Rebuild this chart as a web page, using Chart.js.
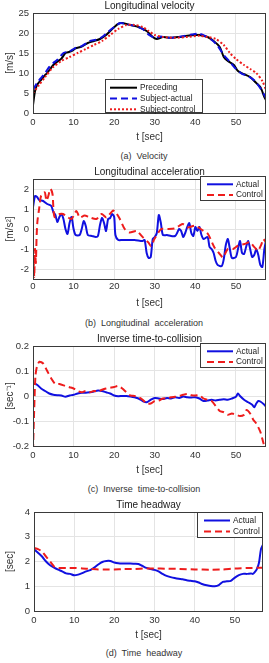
<!DOCTYPE html>
<html>
<head>
<meta charset="utf-8">
<script src="https://cdn.jsdelivr.net/npm/chart.js@4.4.1/dist/chart.umd.min.js"></script>
<style>
  body { margin: 0; width: 269px; height: 663px; overflow: hidden; background: #fff; position: relative; }
  .box { position: absolute; left: 0; width: 269px; }
  .cap { position: absolute; left: 19px; width: 250px; text-align: center; font-size: 9px; line-height: 12px;
         color: #333; white-space: pre; font-family: 'Liberation Sans', Arial, sans-serif; }
</style>
</head>
<body>
<div class="box" style="top:0px;height:143px"><canvas id="vel"></canvas></div>
<div class="cap" style="top:150px">(a)  Velocity</div>
<div class="box" style="top:166px;height:143px"><canvas id="acc"></canvas></div>
<div class="cap" style="top:317px">(b)  Longitudinal  acceleration</div>
<div class="box" style="top:333px;height:143px"><canvas id="ittc"></canvas></div>
<div class="cap" style="top:483px">(c)  Inverse  time-to-collision</div>
<div class="box" style="top:499px;height:142px"><canvas id="thw"></canvas></div>
<div class="cap" style="top:647px">(d)  Time  headway</div>

<script>
// tick labels
var xTicks = [0, 10, 20, 30, 40, 50];
var velTicks = [0, 5, 10, 15, 20, 25];
var accTicks = [-2, -1, 0, 1, 2];
var ittcTicks = [-0.2, -0.1, 0, 0.1, 0.2];
var thwTicks = [0, 1, 2, 3, 4];

// (a) velocity [m/s]
var tPre = [0, 0.5, 1, 2, 3, 3.5, 5, 6, 7, 8, 9, 10, 10.5, 12, 13.5, 15, 16.5, 18, 19.5, 21, 22, 24, 26, 28, 29.5, 30.5, 32, 34, 36, 38, 40, 41, 43, 44.5, 46, 47, 48, 49.5, 50.5, 52, 53.5, 54.5, 56, 57, 57.5];
var vPre = [2, 5.5, 7, 8.3, 9.5, 10, 12, 12.8, 13.6, 15, 15.3, 15.8, 16.2, 16.6, 17.5, 18, 18.5, 19.5, 21, 22.3, 22.5, 22, 21.5, 20.5, 19, 18.5, 19, 18.8, 19, 19.3, 19.5, 19.5, 19, 18, 16.5, 14, 13, 12, 10.5, 9.7, 9, 8, 6.5, 4, 3];
var tSubAct = [0, 1, 2, 3, 4, 5, 6, 7.5, 9, 10.5, 12, 14, 15.5, 17, 18.5, 20, 21.5, 23, 25, 27, 28.5, 30, 31.5, 33, 35, 37, 39, 41, 42.5, 44, 45.5, 47, 48.5, 50, 51.5, 53, 54.5, 56, 57, 57.5];
var vSubAct = [5.8, 7.5, 8.8, 10, 11.5, 12.5, 13.3, 15, 15.4, 16.3, 16.7, 18, 18.3, 19, 20.3, 21.5, 22.5, 22.2, 21.8, 21, 19.6, 18.8, 19.1, 18.8, 18.9, 19.2, 19.6, 19.8, 19.2, 18.3, 16.8, 14.5, 12.8, 11, 9.8, 9.2, 8.2, 6.2, 4.5, 3.5];
var tSubCtl = [0, 1.5, 3, 5, 7, 9, 11, 13, 15, 17, 19, 21, 23, 25, 27, 28.5, 30, 32, 35, 38, 41, 43, 45, 47, 48.5, 50, 52, 53.5, 55, 56.5, 57.5];
var vSubCtl = [5, 7, 9, 11.5, 13, 14, 15, 16, 17, 18, 19.5, 21, 22, 22, 21.5, 20.5, 19.5, 19, 18.8, 19, 19.3, 19, 18.5, 17, 15, 13.5, 12, 11, 10, 8, 5.5];

// (b) longitudinal acceleration [m/s^2]
var tAccAct = [0, 0.5, 1, 1.5, 2.5, 3.5, 4.5, 5, 5.5, 6, 6.5, 7, 7.5, 8, 8.5, 9, 9.5, 10, 10.5, 11.5, 12, 12.5, 13, 13.5, 14.5, 15.5, 16, 16.5, 17, 17.5, 18, 18.5, 19, 19.5, 20, 20.3, 21, 22, 25, 27, 27.5, 28, 28.5, 29, 29.5, 30, 30.5, 31, 31.5, 32, 33, 34, 35, 35.5, 36, 36.5, 37, 37.5, 38, 38.5, 39, 39.5, 40, 40.5, 41, 41.5, 42, 43, 43.5, 44, 44.5, 45, 45.5, 46.5, 47, 47.5, 48, 48.5, 49, 50, 50.5, 51, 51.5, 52, 52.5, 53, 53.5, 54, 54.5, 55, 55.5, 56, 56.5, 57, 57.5];
var vAccAct = [1.1, 1.65, 1.6, 1.45, 1.4, 1.25, 1.15, 0.85, 0.7, 0.35, 0.6, 0.75, 0.5, 0, -0.25, 0.3, 0.6, 0, -0.3, -0.3, 0, 0.4, 0.15, -0.3, -0.35, -0.4, -0.35, 0.2, 0.55, 0.3, -0.1, 0.5, 0.55, 0.75, 0.6, -0.3, -0.55, -0.55, -0.55, -0.6, -0.55, -1.2, -1.45, -1.4, -0.5, -0.4, -0.2, 0.7, 0.3, -0.3, -0.3, -0.35, -0.35, -0.2, 0, -0.1, -0.4, -0.2, 0.1, 0.3, -0.2, -0.35, 0.1, -0.1, 0.1, -0.3, -0.5, -0.4, -0.9, -1.0, -1.2, -1.6, -1.8, -1.85, -1.5, -0.8, -0.5, -1.0, -1.45, -1.4, -1.0, -0.6, -1.2, -1.25, -0.9, -0.6, -1.0, -1.4, -1.3, -1.0, -1.3, -1.8, -1.9, -1.0, -0.5];
var tAccCtl = [0, 0.15, 0.3, 0.5, 0.7, 0.9, 1.1, 1.5, 2, 2.9, 3.3, 3.7, 4.3, 4.8, 5.3, 6.6, 7.4, 8.6, 9.5, 10.7, 11.5, 12.7, 14, 15.6, 16.9, 18.1, 19.7, 20.4, 21.4, 22.6, 23.8, 25.5, 27.1, 28.4, 29.1, 29.9, 31.6, 33.2, 34.9, 36.1, 36.9, 38.1, 39.8, 40.6, 41.9, 43.1, 44.7, 46, 46.8, 48, 49.3, 50.5, 52.1, 53.4, 54.6, 55.4, 56.3, 56.7, 57.5];
var vAccCtl = [-2.6, -1.5, -2.4, -1.0, -1.7, -0.3, 0.4, 1.0, 1.67, 1.83, 1.42, 1.6, 2.0, 1.75, 0.6, 0.75, 0.75, 0.58, 0.5, 0.9, 0.58, 0.67, 0.58, 0.5, 0.75, 0.58, 0.92, 0.83, 0.5, 0, -0.17, -0.1, -0.42, -0.67, -0.85, -0.5, 0, 0, 0.03, 0.17, 0.25, 0.08, 0.17, 0.1, -0.08, -0.25, -0.92, -1.25, -1.42, -1.0, -1.0, -0.83, -0.75, -0.67, -0.92, -1.08, -0.75, -0.5, -0.7];

// (c) inverse time-to-collision [1/sec]
var tIttcAct = [0, 1, 2, 3, 4, 5, 6, 7, 8, 9, 10, 11, 12, 13, 14, 15, 16, 17, 18, 19, 20, 21, 22, 23, 24, 25, 26, 27, 28, 29, 30, 31, 32, 33, 34, 35, 36, 37, 38, 39, 40, 41, 42, 43, 44, 45, 46, 47, 48, 49, 50, 50.5, 51, 52, 53, 54, 54.5, 55, 55.5, 56, 57, 57.5];
var vIttcAct = [0.05, 0.045, 0.03, 0.02, 0.01, 0.005, 0.003, 0.002, -0.003, 0.002, 0.005, 0.01, 0.013, 0.013, 0.015, 0.018, 0.022, 0.02, 0.015, 0.01, 0.002, -0.001, 0, 0, -0.002, -0.005, -0.01, -0.02, -0.025, -0.015, -0.008, -0.01, -0.012, -0.008, -0.01, -0.005, -0.008, -0.002, -0.005, -0.006, -0.005, -0.01, -0.02, -0.018, -0.015, -0.018, -0.015, -0.013, -0.015, -0.01, -0.003, 0.01, 0, -0.015, -0.025, -0.035, -0.045, -0.03, -0.02, -0.022, -0.035, -0.045];
var tIttcCtl = [0, 0.3, 0.6, 1, 1.6, 2.5, 3.5, 4.5, 5.5, 6.5, 8, 9, 10, 11, 12, 13, 14, 15, 16, 17, 18, 19, 20, 21, 22, 23, 24, 25, 26, 27, 28, 29, 30, 31, 32, 33, 34, 35, 36, 37, 38, 39, 40, 41, 42, 43, 44, 45, 46, 47, 48, 49, 50, 51, 52, 52.6, 53.5, 54.3, 55, 56, 56.8, 57.5];
var vIttcCtl = [-0.22, -0.05, 0.08, 0.12, 0.137, 0.13, 0.1, 0.07, 0.048, 0.048, 0.04, 0.035, 0.03, 0.02, 0.015, 0.02, 0.015, 0.02, 0.018, 0.025, 0.03, 0.033, 0.036, 0.04, 0.03, 0.015, 0.002, 0, -0.005, -0.015, -0.03, -0.03, -0.02, -0.018, -0.01, -0.01, -0.005, -0.003, 0, 0.005, 0.008, 0.003, 0.002, 0.003, -0.01, -0.015, -0.02, -0.04, -0.06, -0.065, -0.075, -0.07, -0.075, -0.08, -0.075, -0.056, -0.07, -0.096, -0.11, -0.143, -0.19, -0.22];

// (d) time headway [sec]
var tThwAct = [0, 1, 2, 3, 4, 5, 6, 7, 8, 9, 10, 11, 12, 13, 14, 15, 16, 17, 18, 19, 20, 21, 22, 23, 24, 25, 26, 27, 28, 29, 30, 31, 32, 33, 34, 35, 36, 37, 38, 39, 40, 41, 42, 43, 44, 45, 46, 47, 48, 49, 50, 51, 52, 53, 54, 54.5, 55, 55.5, 56, 56.5, 57];
var vThwAct = [2.5, 2.35, 2.2, 2.0, 1.85, 1.75, 1.67, 1.6, 1.52, 1.5, 1.44, 1.47, 1.53, 1.6, 1.65, 1.75, 1.88, 1.98, 2.02, 2.02, 1.96, 1.93, 1.92, 1.92, 1.92, 1.91, 1.9, 1.82, 1.74, 1.7, 1.66, 1.6, 1.5, 1.42, 1.37, 1.33, 1.3, 1.28, 1.24, 1.22, 1.2, 1.15, 1.08, 1.04, 1.01, 1.0, 1.05, 1.18, 1.2, 1.22, 1.35, 1.45, 1.5, 1.5, 1.52, 1.5, 1.58, 1.7, 1.95, 2.5, 2.68];
var tThwCtl = [0, 1, 2, 3, 4, 5, 6, 8, 10, 12, 14, 16, 18, 20, 22, 25, 28, 30, 33, 36, 40, 44, 47, 50, 54, 57];
var vThwCtl = [2.55, 2.5, 2.4, 2.2, 2.0, 1.8, 1.74, 1.74, 1.74, 1.72, 1.7, 1.68, 1.68, 1.68, 1.69, 1.7, 1.72, 1.72, 1.71, 1.7, 1.68, 1.67, 1.68, 1.72, 1.74, 1.75];

Chart.defaults.font.family = "'Liberation Sans', Arial, sans-serif";
Chart.defaults.color = '#333';

function pts(t, v) {
    return t.map(function (x, i) { return { x: x, y: v[i] }; });
}

// axes box + legend drawn inside the plot, MATLAB style
var boxLegend = {
    id: 'boxLegend',
    afterDraw: function (chart, args, opts) {
        var a = chart.chartArea;
        var ctx = chart.ctx;
        ctx.save();
        ctx.strokeStyle = '#3a3a3a';
        ctx.lineWidth = 1;
        ctx.strokeRect(a.left + 0.5, a.top + 0.5, a.right - a.left - 1, a.bottom - a.top);
        if (opts && opts.w) {
            var x0 = opts.anchor === 'right' ? a.right - opts.w : a.left + opts.dx;
            var y0 = opts.anchor === 'right' ? a.top + opts.dy : a.bottom - opts.h;
            ctx.fillStyle = '#fff';
            ctx.fillRect(x0, y0, opts.w, opts.h);
            ctx.strokeStyle = '#3a3a3a';
            ctx.strokeRect(x0 + 0.5, y0 + 0.5, opts.w - 1, opts.h - 1);
            ctx.font = opts.font + "px 'Liberation Sans', Arial, sans-serif";
            ctx.textBaseline = 'middle';
            chart.data.datasets.forEach(function (ds, k) {
                var y = y0 + opts.first + k * opts.step;
                ctx.beginPath();
                ctx.strokeStyle = ds.borderColor;
                ctx.lineWidth = ds.borderWidth;
                ctx.setLineDash(ds.borderDash || []);
                ctx.moveTo(x0 + opts.s0, y);
                ctx.lineTo(x0 + opts.s1, y);
                ctx.stroke();
                ctx.setLineDash([]);
                ctx.fillStyle = '#222';
                ctx.fillText(ds.label, x0 + opts.tx, y);
            });
        }
        ctx.restore();
    }
};

function line(label, data, color, dash, order) {
    return {
        label: label, data: data, borderColor: color, borderWidth: 2, borderDash: dash,
        pointRadius: 0, tension: 0.25, fill: false, order: order
    };
}

function makeChart(id, datasets, p) {
    return new Chart(document.getElementById(id), {
        type: 'line',
        data: { datasets: datasets },
        plugins: [boxLegend],
        options: {
            responsive: true,
            maintainAspectRatio: false,
            animation: false,
            layout: { padding: { left: 0, right: p.right, top: 0, bottom: 0 } },
            plugins: {
                legend: { display: false },
                tooltip: { enabled: false },
                title: {
                    display: true, text: p.title, fullSize: false, color: '#1a1a1a',
                    font: { size: 10, weight: 'normal' }, padding: { top: 0, bottom: 1 }
                },
                boxLegend: p.legend
            },
            scales: {
                x: {
                    type: 'linear', min: 0, max: p.xMax,
                    afterBuildTicks: function (s) { s.ticks = xTicks.map(function (v) { return { value: v }; }); },
                    afterFit: function (s) { s.height = 30; },
                    ticks: { padding: p.xPad, color: '#333', font: { size: 9.5 } },
                    grid: { color: '#e4e4e4', drawTicks: false },
                    border: { display: false },
                    title: { display: true, text: 't [sec]', color: '#333', font: { size: 10 }, padding: 0 }
                },
                y: {
                    type: 'linear', min: p.yMin, max: p.yMax,
                    afterBuildTicks: function (s) { s.ticks = p.yTicks.map(function (v) { return { value: v }; }); },
                    afterFit: function (s) { s.width = p.yWidth; },
                    ticks: { padding: 4, color: '#333', font: { size: 9.5 }, callback: function (v) { return String(v); } },
                    grid: { color: '#e4e4e4', drawTicks: false },
                    border: { display: false },
                    title: { display: true, text: p.yTitle, color: '#333', font: { size: 10 }, padding: { top: 4, bottom: 0 } }
                }
            }
        }
    });
}

makeChart('vel', [
    line('Preceding', pts(tPre, vPre), '#000000', [], 3),
    line('Subject-actual', pts(tSubAct, vSubAct), '#1010e0', [7, 4], 2),
    line('Subject-control', pts(tSubCtl, vSubCtl), '#ee1c1c', [2, 2], 1)
], {
    title: 'Longitudinal velocity', yTitle: '[m/s]', yMin: 0, yMax: 25, yTicks: velTicks,
    xMax: 57.4, xPad: 4, yWidth: 33, right: 3,
    legend: { anchor: 'left', dx: 72, w: 98, h: 34, first: 8.7, step: 10.8, s0: 5, s1: 32, tx: 35, font: 8.3 }
});

makeChart('acc', [
    line('Actual', pts(tAccAct, vAccAct), '#1010e0', [], 2),
    line('Control', pts(tAccCtl, vAccCtl), '#ee1c1c', [7, 4], 1)
], {
    title: 'Longitudinal acceleration', yTitle: '[m/s\u00b2]', yMin: -2.5, yMax: 2.5, yTicks: accTicks,
    xMax: 57.4, xPad: 2, yWidth: 33, right: 3,
    legend: { anchor: 'right', dy: -3, w: 66, h: 25, first: 8.3, step: 10.7, s0: 7, s1: 33, tx: 36, font: 8.3 }
});

makeChart('ittc', [
    line('Actual', pts(tIttcAct, vIttcAct), '#1010e0', [], 2),
    line('Control', pts(tIttcCtl, vIttcCtl), '#ee1c1c', [7, 4], 1)
], {
    title: 'Inverse time-to-collision', yTitle: '[sec\u207b\u00b9]', yMin: -0.2, yMax: 0.2, yTicks: ittcTicks,
    xMax: 57.4, xPad: 3.5, yWidth: 33, right: 3,
    legend: { anchor: 'right', dy: -3, w: 66, h: 25, first: 8.3, step: 10.7, s0: 7, s1: 33, tx: 36, font: 8.3 }
});

makeChart('thw', [
    line('Actual', pts(tThwAct, vThwAct), '#1010e0', [], 2),
    line('Control', pts(tThwCtl, vThwCtl), '#ee1c1c', [7, 4], 1)
], {
    title: 'Time headway', yTitle: '[sec]', yMin: 0, yMax: 4, yTicks: thwTicks,
    xMax: 57, xPad: 3.5, yWidth: 34, right: 6,
    legend: { anchor: 'right', dy: 0, w: 66, h: 26, first: 8.5, step: 11, s0: 7, s1: 33, tx: 36, font: 8.3 }
});
</script>
</body>
</html>
